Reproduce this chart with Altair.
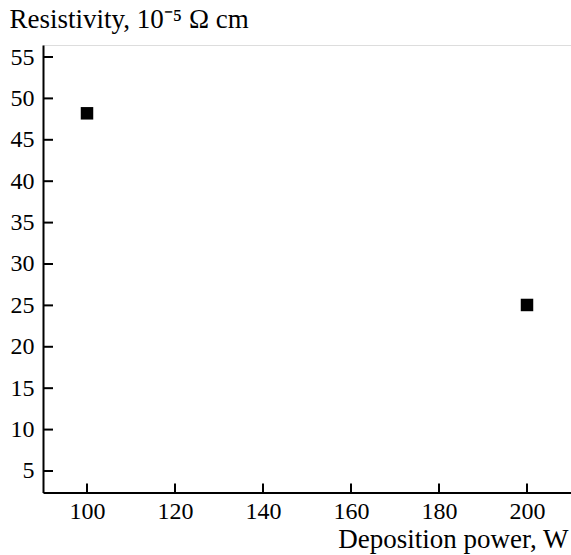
import altair as alt
import pandas as pd

power = [100, 200]
resistivity = [48.2, 25.05]
x_ticks = [100, 120, 140, 160, 180, 200]
y_ticks = [5, 10, 15, 20, 25, 30, 35, 40, 45, 50, 55]

W, H = 528, 447.5
FONT = "Liberation Serif"

pts = pd.DataFrame({"power": power, "res": resistivity})
xt = pd.DataFrame({"v": x_ticks})
yt = pd.DataFrame({"v": y_ticks})

xscale = alt.Scale(domain=[90, 210], nice=False, zero=False)
yscale = alt.Scale(domain=[2.4, 56.45], nice=False, zero=False)

xaxis = alt.Axis(
    values=x_ticks, ticks=False, grid=False, domainColor="black", domainWidth=2,
    labelFont=FONT, labelFontSize=24, labelColor="black", labelPadding=7,
    title="Deposition power, W", titleFont=FONT, titleFontSize=27,
    titleFontWeight="normal", titleColor="black", titleAlign="right",
    titleBaseline="alphabetic", titleX=525, titleY=54.5,
)
yaxis = alt.Axis(
    values=y_ticks, ticks=False, grid=False, domainColor="black", domainWidth=2,
    labelFont=FONT, labelFontSize=24, labelColor="black", labelPadding=9,
    title="Resistivity, 10⁻⁵ Ω cm", titleFont=FONT, titleFontSize=27,
    titleFontWeight="normal", titleColor="black", titleAngle=0, titleAlign="left",
    titleBaseline="alphabetic", titleX=-34, titleY=-18,
)

points = alt.Chart(pts).mark_square(size=156, color="black", opacity=1, filled=True).encode(
    x=alt.X("power:Q", scale=xscale, axis=xaxis),
    y=alt.Y("res:Q", scale=yscale, axis=yaxis),
)

xtick_marks = alt.Chart(xt).mark_rule(color="black", strokeWidth=2).encode(
    x=alt.X("v:Q", scale=xscale, axis=xaxis, title="Deposition power, W"),
    y=alt.value(H),
    y2=alt.value(H - 9),
)
ytick_marks = alt.Chart(yt).mark_rule(color="black", strokeWidth=2).encode(
    y=alt.Y("v:Q", scale=yscale, axis=yaxis, title="Resistivity, 10⁻⁵ Ω cm"),
    x=alt.value(0),
    x2=alt.value(10),
)

chart = alt.layer(points, xtick_marks, ytick_marks).properties(
    width=W, height=H,
    autosize=alt.AutoSizeParams(type="none"),
    padding={"left": 43, "top": 45, "right": 0, "bottom": 62.5},
).configure_view(strokeOpacity=0, strokeWidth=0).configure(background="white")

chart.save("out.html", embed_options={"renderer": "svg", "actions": False})
